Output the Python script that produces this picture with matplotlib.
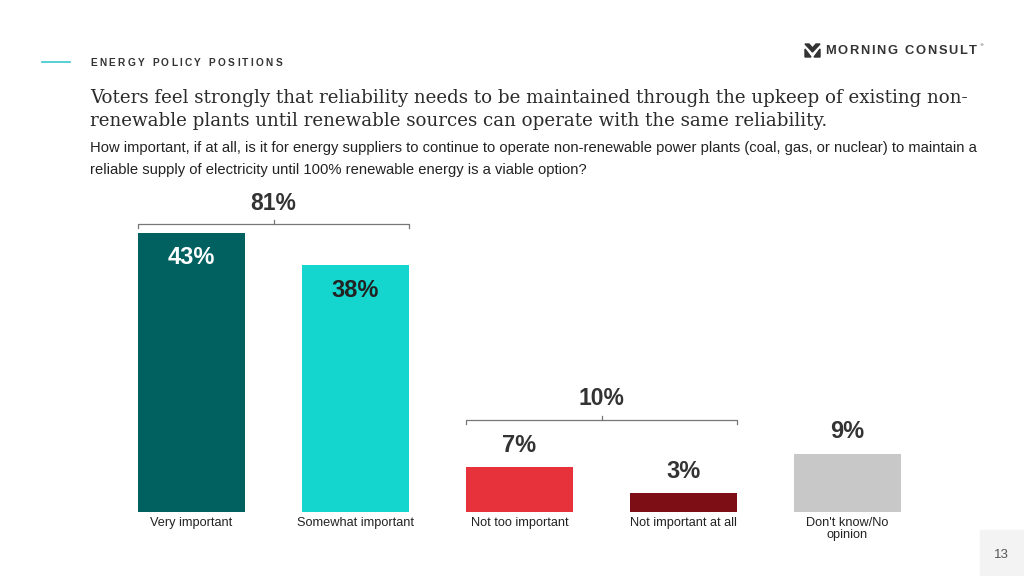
import matplotlib
matplotlib.use("Agg")
import matplotlib.pyplot as plt
from matplotlib.patches import Polygon, Rectangle

# data
categories = ["Very important", "Somewhat important", "Not too important",
              "Not important at all", "Don't know/No\nopinion"]
values = [43, 38, 7, 3, 9]
colors = ["#006160", "#14d6cf", "#e8323b", "#7e0e16", "#c8c8c8"]
label_colors = ["#ffffff", "#222222", "#333333", "#333333", "#333333"]
# net groups: (first index, last index)
groups = [(0, 1), (2, 3)]
bracket_y = [44.3, 14.2]

W, H = 1024, 576
fig = plt.figure(figsize=(W / 100, H / 100), dpi=100)
fig.patch.set_facecolor("white")
sans = "Liberation Sans"


def fx(px):
    return px / W


def fy(py):
    return 1 - py / H


def spaced(s, x0, y0, target_w, **kw):
    # draw text letter by letter so the tracking matches the slide style
    r = fig.canvas.get_renderer()
    widths = []
    arts = []
    for ch in s:
        t = fig.text(0, 0, ch if ch != " " else "n", **kw)
        w = t.get_window_extent(r).width
        if ch == " ":
            w *= 0.5
            t.set_text("")
        widths.append(w)
        arts.append(t)
    gap = (target_w - sum(widths)) / (len(s) - 1)
    x = x0
    for t, w in zip(arts, widths):
        t.set_position((fx(x), fy(y0)))
        t.set_va("center")
        t.set_ha("left")
        x += w + gap


# header
fig.add_artist(plt.Line2D([fx(42), fx(70)], [fy(62), fy(62)], color="#3cc8c8", lw=1.2))
spaced("ENERGY POLICY POSITIONS", 90, 63, 192, fontsize=7.3, fontweight="bold",
       color="#333333", family=sans)

# logo
fig.add_artist(Polygon([(fx(805), fy(44)), (fx(809), fy(44)), (fx(812.5), fy(48)),
                        (fx(816), fy(44)), (fx(820), fy(44)), (fx(812.5), fy(52))],
                       closed=True, transform=fig.transFigure, color="#333333"))
fig.add_artist(Polygon([(fx(805), fy(49)), (fx(811), fy(57)), (fx(805), fy(57))],
                       closed=True, transform=fig.transFigure, color="#333333"))
fig.add_artist(Polygon([(fx(820), fy(49)), (fx(814), fy(57)), (fx(820), fy(57))],
                       closed=True, transform=fig.transFigure, color="#333333"))
spaced("MORNING CONSULT", 825, 51, 152, fontsize=9.3, fontweight="bold",
       color="#333333", family=sans)
fig.text(fx(979), fy(45), "®", fontsize=3, color="#333333", va="center")

# headline and question
serif = "DejaVu Serif"
fig.text(fx(90), fy(98), "Voters feel strongly that reliability needs to be maintained through the upkeep of existing non-",
         fontsize=13.15, family=serif, color="#2b2b2b", va="center")
fig.text(fx(90), fy(121), "renewable plants until renewable sources can operate with the same reliability.",
         fontsize=13.15, family=serif, color="#2b2b2b", va="center")
fig.text(fx(90), fy(148), "How important, if at all, is it for energy suppliers to continue to operate non-renewable power plants (coal, gas, or nuclear) to maintain a",
         fontsize=10.65, family=sans, color="#222222", va="center")
fig.text(fx(90), fy(170), "reliable supply of electricity until 100% renewable energy is a viable option?",
         fontsize=10.65, family=sans, color="#222222", va="center")

# chart
ppu = 6.5  # pixels per percentage point
x0px, step = 191.5, 164
ax_l, ax_r, base = 100, 940, 512
ax = fig.add_axes([fx(ax_l), fy(base), (ax_r - ax_l) / W, 50 * ppu / H])
ax.set_xlim((ax_l - x0px) / step, (ax_r - x0px) / step)
ax.set_ylim(0, 50)
ax.axis("off")

bw = 107 / step
xs = list(range(len(values)))
ax.bar(xs, values, width=bw, color=colors)

for x, v, c in zip(xs, values, label_colors):
    if v >= 20:
        dy = -25.5
    else:
        dy = 21.5
    ax.annotate(f"{v}%", (x, v), xytext=(0, dy * 0.72), textcoords="offset points",
                ha="center", va="center", fontsize=17, fontweight="bold",
                color=c, family=sans)

for x, cat in zip(xs, categories):
    ax.annotate(cat, (x, 0), xytext=(0, -5 * 0.72), textcoords="offset points",
                ha="center", va="top", fontsize=9.2, family=sans, color="#222222",
                linespacing=1.0)

tick = 4 / ppu
for (a, b), by in zip(groups, bracket_y):
    left, right = a - bw / 2, b + bw / 2
    mid = (left + right) / 2
    ax.plot([left, left, right, right], [by - tick, by, by, by - tick],
            color="#777777", lw=0.9, clip_on=False)
    ax.plot([mid, mid], [by, by + tick], color="#777777", lw=0.9, clip_on=False)
    net = sum(values[a:b + 1])
    ax.annotate(f"{net}%", (mid, by), xytext=(0, 21 * 0.72), textcoords="offset points",
                ha="center", va="center", fontsize=16.5, fontweight="bold",
                color="#333333", family=sans)

# page number
fig.add_artist(Rectangle((fx(980), 0), fx(44), 46 / H, transform=fig.transFigure,
                         color="#f3f3f3", zorder=0))
fig.text(fx(1001), fy(555), "13", fontsize=9.5, family=sans, color="#555555",
         ha="center", va="center")

fig.savefig("out.png", dpi=100)
